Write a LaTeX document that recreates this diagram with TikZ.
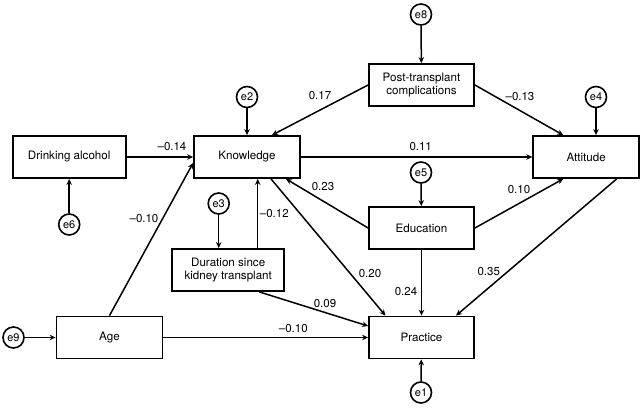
\documentclass[tikz,border=0pt]{standalone}
\usepackage{fontspec}
\setmainfont{TeX Gyre Heros}
\usetikzlibrary{arrows.meta}
\begin{document}
\begin{tikzpicture}[x=1pt,y=-1pt,
  box/.style={draw, line width=1.8pt, minimum height=42pt, inner sep=2pt, align=center, font=\fontsize{11.6}{13.5}\selectfont},
  err/.style={draw, circle, line width=1.6pt, minimum size=21pt, inner sep=0pt, font=\fontsize{11}{12}\selectfont},
  arr/.style={line width=1.5pt, -{Stealth[length=6pt,width=5.5pt,inset=2pt]}},
  lab/.style={font=\fontsize{11.5}{13}\selectfont, inner sep=0pt}]
\useasboundingbox (0,0) rectangle (643,409);
% boxes
\node[box, minimum width=113pt] (alc) at (69.2,157) {Drinking alcohol};
\node[box, minimum width=106pt] (know) at (247,157) {Knowledge};
\node[box, minimum width=105pt] (post) at (421.5,85) {Post-transplant\\complications};
\node[box, minimum width=106pt] (att) at (586.2,157) {Attitude};
\node[box, minimum width=105pt] (edu) at (421.5,228) {Education};
\node[box, minimum width=112pt] (dur) at (228.2,270) {Duration since\\kidney transplant};
\node[box, minimum width=106pt] (age) at (109.5,337.5) {Age};
\node[box, minimum width=105pt] (prac) at (421.5,337.5) {Practice};
% error terms
\node[err] (e8) at (421,14.5) {e8};
\node[err] (e2) at (247,97) {e2};
\node[err] (e4) at (596,97) {e4};
\node[err] (e5) at (421,172.5) {e5};
\node[err] (e3) at (218.7,203.5) {e3};
\node[err] (e6) at (69.2,224.5) {e6};
\node[err] (e9) at (13.5,337.5) {e9};
\node[err] (e1) at (421,392.5) {e1};
% error arrows
\draw[arr] (e8) -- (post);
\draw[arr] (e2) -- (know);
\draw[arr] (e4) -- (e4 |- att.north);
\draw[arr] (e5) -- (edu);
\draw[arr] (e3) -- (e3 |- dur.north);
\draw[arr] (e6) -- (alc);
\draw[arr] (e9) -- (age);
\draw[arr] (e1) -- (prac);
% paths
\draw[arr] (alc) -- (know);
\draw[arr] (post.west) -- ([xshift=25pt]know.north);
\draw[arr] (age.north) -- ([yshift=-6pt]know.west);
\draw[arr] ([xshift=29.5pt]dur.north) -- ([xshift=29.5pt]dur.north |- know.south);
\draw[arr] (edu.west) -- ([xshift=39pt]know.south);
\draw[arr] (know) -- (att);
\draw[arr] (post.east) -- ([xshift=-23pt]att.north);
\draw[arr] (edu.east) -- ([xshift=-23pt]att.south);
\draw[arr] ([xshift=24pt]know.south) -- ([xshift=-36pt]prac.north);
\draw[arr] ([xshift=31pt]dur.south) -- ([yshift=11.5pt]prac.west);
\draw[arr] (age) -- (prac);
\draw[arr] (edu) -- (prac);
\draw[arr] ([xshift=30.5pt]att.south) -- ([xshift=34.5pt]prac.north);
% labels
\node[lab] (l1) at (172,146.5) {--0.14};
\node[lab] (l2) at (320,96) {0.17};
\node[lab] (l3) at (520,96.5) {--0.13};
\node[lab] (l4) at (420.7,146.5) {0.11};
\node[lab] (l5) at (323,186.5) {0.23};
\node[lab] (l6) at (519,190) {0.10};
\node[lab] (l7) at (144,218.3) {--0.10};
\node[lab] (l8) at (274.3,214) {--0.12};
\node[lab] (l9) at (370,274) {0.20};
\node[lab] (l10) at (406,291.7) {0.24};
\node[lab] (l11) at (488.7,271.7) {0.35};
\node[lab] (l12) at (325,303.3) {0.09};
\node[lab] (l13) at (293.3,328.3) {--0.10};
\end{tikzpicture}
\end{document}
